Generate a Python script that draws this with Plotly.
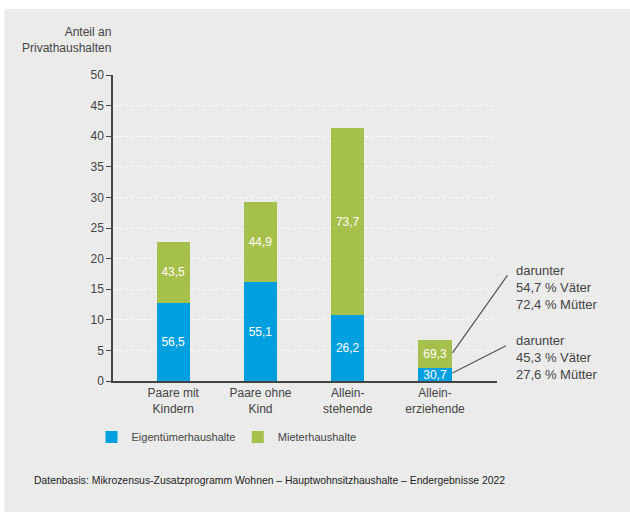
import plotly.graph_objects as go

# Daten: Anteil an Privathaushalten (Höhe der Segmente) und Anteile innerhalb der Gruppe
kategorien = ["Paare mit<br>Kindern", "Paare ohne<br>Kind", "Allein-<br>stehende", "Allein-<br>erziehende"]
eigentuemer = [12.8, 16.1, 10.8, 2.1]
mieter = [9.9, 13.1, 30.5, 4.6]
eigentuemer_text = ["56,5", "55,1", "26,2", "30,7"]
mieter_text = ["43,5", "44,9", "73,7", "69,3"]
y_ticks = [0, 5, 10, 15, 20, 25, 30, 35, 40, 45, 50]

BLAU = "#00a0e0"
GRUEN = "#a6c14b"
GRAU = "#ebebeb"
TEXT = "#444444"
FONT = "Liberation Sans, Arial, sans-serif"

x_pos = list(range(len(kategorien)))

fig = go.Figure()
fig.add_trace(go.Bar(
    x=x_pos, y=eigentuemer, name="Eigentümerhaushalte", legend="legend",
    marker=dict(color=BLAU, line=dict(width=0)),
    text=eigentuemer_text, textposition="inside", insidetextanchor="middle",
    textangle=0, constraintext="none",
    textfont=dict(color="white", size=12, family=FONT),
    width=0.38,
))
fig.add_trace(go.Bar(
    x=x_pos, y=mieter, name="Mieterhaushalte", legend="legend2",
    marker=dict(color=GRUEN, line=dict(width=0)),
    text=mieter_text, textposition="inside", insidetextanchor="middle",
    textangle=0, constraintext="none",
    textfont=dict(color="white", size=12, family=FONT),
    width=0.38,
))

# weißer Rand oben und links, Rest grau (paper_bgcolor)
fig.add_shape(type="rect", xref="paper", yref="paper",
              x0=-0.4, x1=1.5, y0=1.2157, y1=1.4,
              fillcolor="white", line=dict(width=0), layer="below")
fig.add_shape(type="rect", xref="paper", yref="paper",
              x0=-0.4, x1=-0.283, y0=-0.5, y1=1.4,
              fillcolor="white", line=dict(width=0), layer="below")

annotations = [
    dict(text="Anteil an<br>Privathaushalten", xref="paper", yref="paper",
         x=0, y=1.06, xanchor="right", yanchor="bottom", align="right",
         showarrow=False, font=dict(size=12, color=TEXT, family=FONT)),
    dict(text="Datenbasis: Mikrozensus-Zusatzprogramm Wohnen – Hauptwohnsitzhaushalte – Endergebnisse 2022",
         xref="paper", yref="paper", x=-0.211, y=-0.324, xanchor="left", yanchor="middle",
         showarrow=False, font=dict(size=10.4, color="#222222", family=FONT)),
    dict(text="darunter<br>54,7 % Väter<br>72,4 % Mütter", xref="paper", yref="paper",
         x=1.045, y=0.392, xanchor="left", yanchor="top", align="left",
         showarrow=False, font=dict(size=13, color=TEXT, family=FONT)),
    dict(text="darunter<br>45,3 % Väter<br>27,6 % Mütter", xref="paper", yref="paper",
         x=1.045, y=0.163, xanchor="left", yanchor="top", align="left",
         showarrow=False, font=dict(size=13, color=TEXT, family=FONT)),
    # Verbindungslinien
    dict(text="", x=3.2, y=4.6, xref="x", yref="y", ax=56, ay=-79,
         showarrow=True, arrowhead=0, arrowwidth=1.2, arrowcolor="#555555"),
    dict(text="", x=3.2, y=1.3, xref="x", yref="y", ax=55, ay=-28,
         showarrow=True, arrowhead=0, arrowwidth=1.2, arrowcolor="#555555"),
]

legend_style = dict(orientation="h", y=-0.183, xanchor="left", yanchor="middle",
                    bgcolor="rgba(0,0,0,0)", font=dict(size=11, color=TEXT, family=FONT))

fig.update_layout(
    width=630, height=512,
    barmode="stack",
    paper_bgcolor=GRAU,
    plot_bgcolor="rgba(0,0,0,0)",
    margin=dict(l=113, r=133, t=75, b=131),
    font=dict(family=FONT, color=TEXT, size=12),
    showlegend=True,
    legend=dict(x=-0.056, **legend_style),
    legend2=dict(x=0.325, **legend_style),
    annotations=annotations,
    xaxis=dict(
        range=[-0.69, 3.71], tickmode="array", tickvals=x_pos, ticktext=kategorien,
        showline=True, linecolor="#444444", linewidth=1.5, ticks="",
        showgrid=False, zeroline=False, tickfont=dict(size=12, color=TEXT),
    ),
    yaxis=dict(
        range=[0, 50], tickmode="array", tickvals=y_ticks,
        showline=True, linecolor="#444444", linewidth=1.5,
        ticks="outside", ticklen=5, tickcolor="#444444", tickwidth=1.2,
        showgrid=True, gridcolor="rgba(255,255,255,0.8)", griddash="dot", gridwidth=1,
        zeroline=False, tickfont=dict(size=12, color=TEXT),
    ),
)

# Seitenrand entfernen, damit die Grafik genau das Fenster füllt
fig.write_html(
    "out.html",
    config={"displayModeBar": False},
    post_script="document.body.style.margin='0';document.body.style.overflow='hidden';",
)
